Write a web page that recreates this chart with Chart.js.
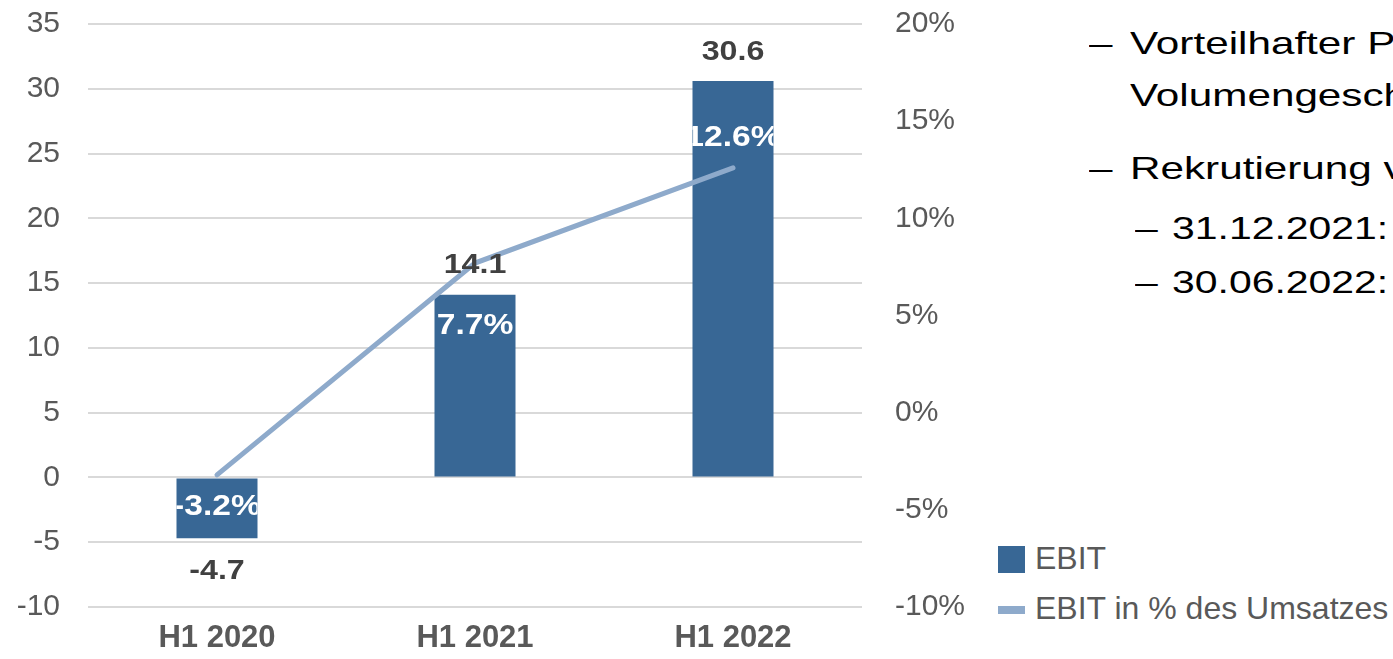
<!DOCTYPE html>
<html>
<head>
<meta charset="utf-8">
<script src="https://cdn.jsdelivr.net/npm/chart.js@4.4.0/dist/chart.umd.min.js"></script>
<style>
  html, body { margin: 0; padding: 0; background: #fff; }
  body { width: 1393px; height: 659px; overflow: hidden; position: relative; font-family: "Liberation Sans", Arial, sans-serif; }
  #wrap { position: absolute; left: 0; top: 0; width: 975px; height: 659px; }
  .txt { position: absolute; white-space: nowrap; color: #000; line-height: 36px; transform: scaleX(1.32); transform-origin: left center; }
  .l1 { font-size: 32px; }
  .l2 { font-size: 31px; }
  .lg { position: absolute; white-space: nowrap; color: #595959; font-size: 32px; line-height: 36px; }
  .sw { position: absolute; }
</style>
</head>
<body>
<div id="wrap"><canvas id="ebitChart"></canvas></div>

<div class="txt l1" style="left:1089px; top:25px;">–</div>
<div class="txt l1" style="left:1130px; top:25px;">Vorteilhafter Preis- und Volumengeschäft</div>
<div class="txt l1" style="left:1130px; top:77px;">Volumengeschäft</div>
<div class="txt l1" style="left:1089px; top:150px;">–</div>
<div class="txt l1" style="left:1130px; top:150px;">Rekrutierung von Mitarbeitern</div>
<div class="txt l2" style="left:1135px; top:211px;">–</div>
<div class="txt l2" style="left:1172px; top:211px;">31.12.2021:</div>
<div class="txt l2" style="left:1135px; top:265px;">–</div>
<div class="txt l2" style="left:1172px; top:265px;">30.06.2022:</div>

<div class="sw" style="left:998px; top:546px; width:27px; height:27px; background:#386795;"></div>
<div class="lg" style="left:1035px; top:540px;">EBIT</div>
<div class="sw" style="left:998px; top:606px; width:27px; height:8px; background:#8eaacb;"></div>
<div class="lg" style="left:1035px; top:590px;">EBIT in % des Umsatzes</div>

<script>
// categories + values
const periods = ['H1 2020', 'H1 2021', 'H1 2022'];
const ebit = [-4.7, 14.1, 30.6];
const ebitMargin = [-3.2, 7.7, 12.6];

const barColor = '#386795';
const lineColor = '#8eaacb';
const gridColor = '#d9d9d9';
const tickColor = '#595959';

// how far below the bar top the white % label sits
const pctOffset = [28, 31, 57];

// text in the slide is a bit wider than plain Arial
function stretchedText(ctx, text, x, y, sx) {
    ctx.save();
    ctx.translate(x, y);
    ctx.scale(sx, 1);
    ctx.fillText(text, 0, 0);
    ctx.restore();
}

const labelPlugin = {
    id: 'barLabels',
    afterDraw(chart) {
        const ctx = chart.ctx;
        const bars = chart.getDatasetMeta(1).data;
        ctx.save();
        ctx.textAlign = 'center';
        ctx.textBaseline = 'middle';
        bars.forEach((bar, i) => {
            const top = Math.min(bar.y, bar.base);
            const bottom = Math.max(bar.y, bar.base);
            const left = bar.x - bar.width / 2;

            // EBIT value above / below the bar
            ctx.font = 'bold 28px "Liberation Sans", Arial, sans-serif';
            ctx.fillStyle = '#404040';
            if (ebit[i] >= 0) stretchedText(ctx, ebit[i].toFixed(1), bar.x, top - 29, 1.15);
            else stretchedText(ctx, ebit[i].toFixed(1), bar.x, bottom + 33, 1.15);

            // margin label, clipped to the bar
            ctx.save();
            ctx.beginPath();
            ctx.rect(left, top, bar.width, bottom - top);
            ctx.clip();
            ctx.font = 'bold 30px "Liberation Sans", Arial, sans-serif';
            ctx.fillStyle = '#ffffff';
            stretchedText(ctx, ebitMargin[i].toFixed(1) + '%', bar.x, top + pctOffset[i], 1.12);
            ctx.restore();
        });
        ctx.restore();
    }
};

// vertical axes: fixed width, no extra top/bottom padding from tick labels
function fixAxis(width) {
    return scale => {
        scale.width = width;
        scale.paddingTop = 0;
        scale.paddingBottom = 0;
    };
}

new Chart('ebitChart', {
    type: 'bar',
    data: {
        labels: periods,
        datasets: [
            {
                type: 'line',
                label: 'EBIT in % des Umsatzes',
                data: ebitMargin,
                yAxisID: 'y1',
                borderColor: lineColor,
                borderWidth: 5,
                borderCapStyle: 'round',
                pointRadius: 0,
                tension: 0,
                order: 0
            },
            {
                label: 'EBIT',
                data: ebit,
                yAxisID: 'y',
                backgroundColor: barColor,
                barPercentage: 0.314,
                categoryPercentage: 1,
                order: 1
            }
        ]
    },
    options: {
        responsive: true,
        maintainAspectRatio: false,
        animation: false,
        layout: { padding: { top: 24, left: 0, right: 0, bottom: 0 } },
        plugins: {
            legend: { display: false },
            tooltip: { enabled: false }
        },
        scales: {
            x: {
                grid: { display: false },
                border: { display: false },
                ticks: {
                    color: tickColor,
                    font: { family: '"Liberation Sans", Arial, sans-serif', size: 31, weight: 'bold' },
                    padding: 5
                },
                afterFit(scale) { scale.height = 52; }
            },
            y: {
                position: 'left',
                min: -10,
                max: 35,
                grid: { color: gridColor, lineWidth: 2, drawTicks: false },
                border: { display: false },
                ticks: {
                    stepSize: 5,
                    color: tickColor,
                    padding: 28,
                    font: { family: '"Liberation Sans", Arial, sans-serif', size: 30 }
                },
                afterFit: fixAxis(88)
            },
            y1: {
                position: 'right',
                min: -10,
                max: 20,
                grid: { display: false },
                border: { display: false },
                ticks: {
                    stepSize: 5,
                    color: tickColor,
                    padding: 25,
                    font: { family: '"Liberation Sans", Arial, sans-serif', size: 30 },
                    callback: v => v + '%'
                },
                afterFit: fixAxis(113)
            }
        }
    },
    plugins: [labelPlugin]
});
</script>
</body>
</html>
